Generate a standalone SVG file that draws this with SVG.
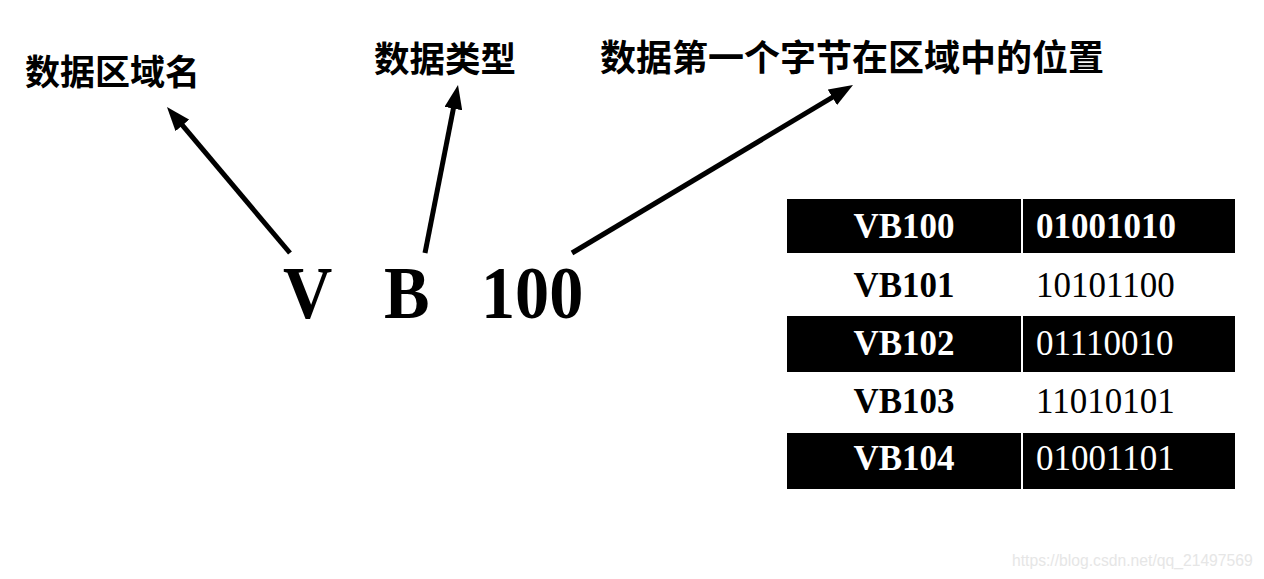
<svg xmlns="http://www.w3.org/2000/svg" width="1264" height="579" viewBox="0 0 1264 579">
  <style>
    .cjk { font-family: "Liberation Serif", "Noto Sans CJK SC", serif; font-weight: bold; fill: #000; }
    .big { font-family: "Liberation Serif", "Times New Roman", serif; font-weight: bold; font-size: 75px; fill: #000; }
    .cell { font-family: "Liberation Serif", "Times New Roman", serif; font-size: 35px; }
    .b { font-weight: bold; }
    .w { fill: #fff; }
    .k { fill: #000; }
    .arrow { stroke: #000; stroke-width: 5; fill: none; marker-end: url(#head); }
    .mark { font-family: "Liberation Sans", Arial, sans-serif; font-size: 15.7px; fill: #e6e6e6; }
  </style>
  <defs>
    <marker id="head" markerUnits="userSpaceOnUse" markerWidth="24" markerHeight="18" refX="12" refY="9" orient="auto" viewBox="0 0 24 18">
      <path d="M0,0 L24,9 L0,18 z" fill="#000"/>
    </marker>
  </defs>
  <rect width="1264" height="579" fill="#fff"/>

  <g id="label-area">
    <text class="cjk" x="25" y="85" font-size="35">数据区域名</text>
  </g>
  <g id="label-type">
    <text class="cjk" x="374" y="72" font-size="35.5">数据类型</text>
  </g>
  <g id="label-offset">
    <text class="cjk" x="600" y="71" font-size="36">数据第一个字节在区域中的位置</text>
  </g>

  <g id="address">
    <text class="big" transform="translate(283,318) scale(0.91,1)">V</text>
    <text class="big" transform="translate(384,318) scale(0.91,1)">B</text>
    <text class="big" transform="translate(481,318) scale(0.91,1)">100</text>
  </g>

  <g id="connectors">
    <path class="arrow" d="M290,253 L174.7,116.2"/>
    <path class="arrow" d="M425,253 L455.7,96.8"/>
    <path class="arrow" d="M572,253 L842.7,91.2"/>
  </g>

  <g id="table">
    <g id="row-vb100">
      <rect x="787" y="199" width="234" height="54" fill="#000"/>
      <rect x="1023" y="199" width="212" height="54" fill="#000"/>
      <text class="cell b w" x="904" y="238" text-anchor="middle">VB100</text>
      <text class="cell b w" x="1036" y="238">01001010</text>
    </g>
    <g id="row-vb101">
      <text class="cell b k" x="904" y="297" text-anchor="middle">VB101</text>
      <text class="cell k" x="1036" y="297">10101100</text>
    </g>
    <g id="row-vb102">
      <rect x="787" y="316" width="234" height="56" fill="#000"/>
      <rect x="1023" y="316" width="212" height="56" fill="#000"/>
      <text class="cell b w" x="904" y="355" text-anchor="middle">VB102</text>
      <text class="cell w" x="1036" y="355">01110010</text>
    </g>
    <g id="row-vb103">
      <text class="cell b k" x="904" y="413" text-anchor="middle">VB103</text>
      <text class="cell k" x="1036" y="413">11010101</text>
    </g>
    <g id="row-vb104">
      <rect x="787" y="433" width="234" height="56" fill="#000"/>
      <rect x="1023" y="433" width="212" height="56" fill="#000"/>
      <text class="cell b w" x="904" y="470" text-anchor="middle">VB104</text>
      <text class="cell w" x="1036" y="470">01001101</text>
    </g>
  </g>

  <text class="mark" x="1012" y="566">https://blog.csdn.net/qq_21497569</text>
</svg>
